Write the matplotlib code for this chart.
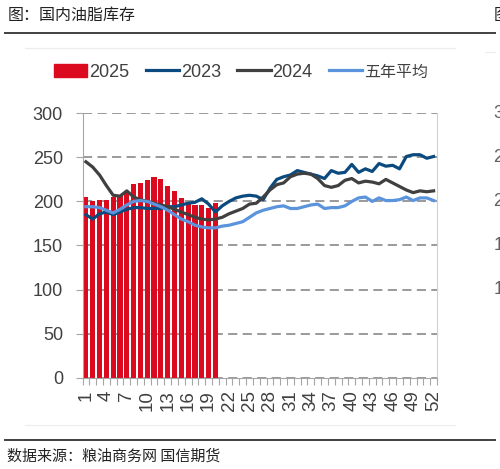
import matplotlib
matplotlib.use('Agg')
import matplotlib.pyplot as plt
from matplotlib.patches import Patch
from matplotlib.lines import Line2D

plt.rcParams['font.family'] = ['Liberation Sans', 'Noto Sans CJK SC']
cjk = ['Noto Sans CJK SC', 'DejaVu Sans']

# weekly domestic edible oil inventory (10k tonnes)
weeks = list(range(1, 53))
stock_2025 = [205, 201, 202, 202, 205, 207, 210, 220, 221, 224, 228, 225, 218, 212,
              204, 199, 196, 196, 193, 198]
stock_2023 = [185, 180, 186, 188, 185, 188, 191, 193, 193, 192, 192, 192, 194, 194,
              196, 198, 199, 203, 197, 188, 195, 200, 204, 206, 207, 206, 202, 215,
              225, 228, 230, 235, 233, 231, 229, 226, 235, 232, 233, 242, 233, 237,
              234, 243, 240, 241, 237, 251, 253, 253, 249, 251]
stock_2024 = [245, 239, 230, 218, 207, 206, 212, 205, 202, 200, 198, 196, 194, 191,
              188, 185, 182, 180, 179, 180, 182, 186, 189, 192, 197, 198, 205, 213,
              219, 221, 228, 231, 232, 231, 226, 218, 216, 218, 224, 226, 221, 223,
              222, 220, 225, 221, 217, 213, 210, 212, 211, 212]
stock_avg5 = [194, 194, 193, 190, 187, 191, 196, 200, 201, 200, 197, 194, 190, 185,
              180, 177, 173, 171, 170, 170, 172, 173, 175, 177, 182, 187, 190, 192,
              194, 195, 192, 192, 194, 196, 197, 192, 193, 193, 195, 200, 204, 205,
              200, 204, 201, 201, 202, 205, 201, 204, 204, 201]
week_labels = [str(w) for w in range(1, 53, 3)]

fig = plt.figure(figsize=(5.0, 4.69), dpi=100)
ax = fig.add_axes([0.165, 0.1947, 0.709, 0.5637])

ax.bar(weeks[:len(stock_2025)], stock_2025, width=0.76, color='#dc0a1e', zorder=2)
ax.plot(weeks, stock_2023, color='#0b4a7e', lw=2.3, zorder=3)
ax.plot(weeks, stock_2024, color='#404040', lw=2.3, zorder=3)
ax.plot(weeks, stock_avg5, color='#5b93dc', lw=2.3, zorder=3)

ax.set_xlim(0.5, 52.5)
ax.set_ylim(0, 300)
ax.set_yticks(range(0, 301, 50))
ax.yaxis.grid(True, color='#7f7f7f', lw=1.1, dashes=(6, 3.5))
ax.set_axisbelow(True)

ax.set_xticks(range(1, 53, 3))
ax.set_xticklabels(week_labels, rotation=90, va='top', ha='center')
ax.set_xticks([w + 0.5 for w in range(0, 53)], minor=True)
ax.tick_params(axis='x', which='major', length=0, pad=9, labelsize=13.5, labelcolor='#404040')
ax.tick_params(axis='x', which='minor', length=5, color='#a6a6a6', width=0.8)
ax.tick_params(axis='y', length=5, color='#a6a6a6', width=0.8, pad=9, labelsize=13,
               labelcolor='#404040')

ax.spines['top'].set_visible(False)
ax.spines['left'].set_color('#a6a6a6')
ax.spines['bottom'].set_color('#a6a6a6')
ax.spines['right'].set_color('#d0d0d0')

handles = [Patch(color='#dc0a1e'),
           Line2D([], [], color='#0b4a7e', lw=2.3),
           Line2D([], [], color='#404040', lw=2.3),
           Line2D([], [], color='#5b93dc', lw=2.3)]
leg = fig.legend(handles, ['2025', '2023', '2024', '五年平均'], loc='center',
                 bbox_to_anchor=(0.482, 0.846), ncol=4, frameon=False, fontsize=13,
                 handlelength=1.85, handletextpad=0.1, columnspacing=0.9)
for t in leg.get_texts():
    t.set_color('#404040')
leg.get_texts()[3].set_family(cjk)
leg.get_texts()[3].set_fontsize(11.5)

# page decorations
fig.text(0.016, 0.968, '图：国内油脂库存', family=cjk, fontsize=11.5, va='center', color='#222222')
fig.add_artist(Line2D([0.01, 0.99], [0.929, 0.929], color='#404040', lw=1.4))
fig.add_artist(Line2D([0.05, 0.91], [0.897, 0.897], color='#ececec', lw=0.8))
fig.add_artist(Line2D([0.05, 0.91], [0.094, 0.094], color='#ececec', lw=0.8))
fig.add_artist(Line2D([0.97, 0.99], [0.889, 0.889], color='#ececec', lw=0.8))
fig.add_artist(Line2D([0.01, 0.99], [0.062, 0.062], color='#404040', lw=1.4))
fig.text(0.014, 0.026, '数据来源：粮油商务网 国信期货', family=cjk, fontsize=10.8,
         va='center', color='#222222')

# neighbouring chart cut off at the right edge
fig.text(0.987, 0.968, '图', family=cjk, fontsize=11.5, va='center', color='#222222')
for lab, yv in zip(['300', '250', '200', '150', '100'], [113, 157, 201, 245, 289]):
    fig.text(0.987, 1 - yv / 469, lab, fontsize=13, va='center', color='#606060')

fig.savefig('out.png', dpi=100)
